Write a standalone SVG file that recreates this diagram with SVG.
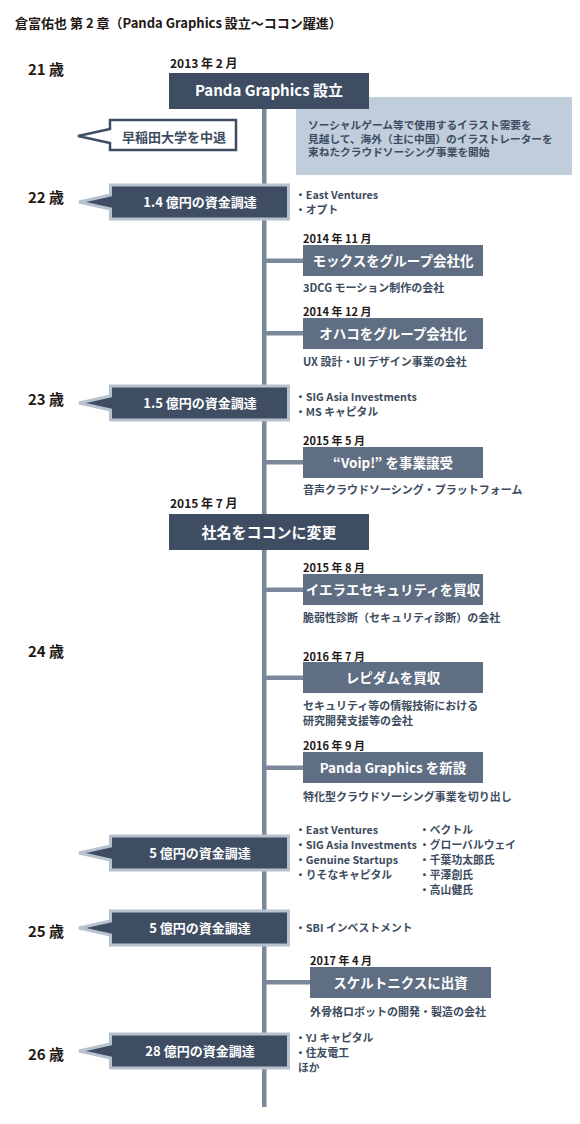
<svg xmlns="http://www.w3.org/2000/svg" width="580" height="1124" viewBox="0 0 580 1124">
<style>
text{font-family:"Noto Sans CJK JP","Noto Sans",sans-serif;font-weight:700}
.title{font-size:13px;fill:#231815}
.age{font-size:15px;fill:#231815}
.date{font-size:11px;fill:#231815}
.big{font-size:15px;fill:#fff;text-anchor:middle}
.ev{font-size:13.5px;fill:#fff;text-anchor:middle}
.fund{font-size:13px;fill:#fff;text-anchor:middle}
.desc{font-size:11px;fill:#3d4c60}
.list{font-size:10.8px;fill:#3d4c60}
.note{font-size:10.7px;fill:#3d4c60}
.dark{fill:#3e4d62}
.evbox{fill:#5f6e82}
.fbox{fill:#3e4d62;stroke:#b6c2ce;stroke-width:3;stroke-linejoin:miter}
.line{fill:#7b8899}
</style>
<rect width="580" height="1124" fill="#fff"/>
<text class="title" x="15" y="28">倉富佑也 第 2 章（Panda Graphics 設立〜ココン躍進）</text>
<g id="ages">
<text class="age" x="28" y="75">21 歳</text>
<text class="age" x="28" y="203">22 歳</text>
<text class="age" x="28" y="405">23 歳</text>
<text class="age" x="28" y="657">24 歳</text>
<text class="age" x="28" y="937">25 歳</text>
<text class="age" x="28" y="1060">26 歳</text>
</g>
<g id="connectors">
<rect class="line" x="262" y="100" width="4.5" height="1007"/>
<rect class="line" x="264" y="258.5" width="40" height="4.5"/>
<rect class="line" x="264" y="331" width="40" height="4.5"/>
<rect class="line" x="264" y="460" width="40" height="4.5"/>
<rect class="line" x="264" y="587.5" width="40" height="4.5"/>
<rect class="line" x="264" y="675.5" width="40" height="4.5"/>
<rect class="line" x="264" y="765.5" width="40" height="4.5"/>
<rect class="line" x="264" y="980" width="46" height="4.5"/>
</g>
<g id="note-box">
<rect x="296" y="97" width="276" height="78" fill="#c0cddb"/>
<text class="note" x="308" y="129">ソーシャルゲーム等で使用するイラスト需要を</text>
<text class="note" x="308" y="142.5">見越して、海外（主に中国）のイラストレーターを</text>
<text class="note" x="308" y="156">束ねたクラウドソーシング事業を開始</text>
</g>
<g id="panda-founded">
<text class="date" x="170" y="68" style="font-size:12px">2013 年 2 月</text>
<rect class="dark" x="169" y="73" width="200" height="36"/>
<text class="big" x="269" y="96">Panda Graphics 設立</text>
</g>
<g id="waseda">
<path d="M110,120 H236 V150 H110 V143 L78,136 L110,129 Z" fill="#fff" stroke="#3d4c60" stroke-width="2.5"/>
<text x="174" y="141.5" style="font-size:13px;fill:#3d4c60;text-anchor:middle">早稲田大学を中退</text>
</g>
<g id="fund-1">
<path class="fbox" d="M110.5,185 H288.5 V219 H110.5 V209 L79,202 L110.5,195 Z"/>
<text class="fund" x="200" y="207">1.4 億円の資金調達</text>
<text class="list" x="295" y="199">・East Ventures</text>
<text class="list" x="295" y="214">・オプト</text>
</g>
<g id="mox">
<text class="date" x="303" y="243">2014 年 11 月</text>
<rect class="evbox" x="303" y="245" width="180" height="31"/>
<text class="ev" x="393" y="265.5">モックスをグループ会社化</text>
<text class="desc" x="303" y="292">3DCG モーション制作の会社</text>
</g>
<g id="ohaco">
<text class="date" x="303" y="316">2014 年 12 月</text>
<rect class="evbox" x="303" y="318" width="180" height="31"/>
<text class="ev" x="393" y="338.5">オハコをグループ会社化</text>
<text class="desc" x="303" y="366">UX 設計・UI デザイン事業の会社</text>
</g>
<g id="fund-2">
<path class="fbox" d="M110.5,386 H288.5 V420 H110.5 V410 L79,403 L110.5,396 Z"/>
<text class="fund" x="200" y="408">1.5 億円の資金調達</text>
<text class="list" x="295" y="401">・SIG Asia Investments</text>
<text class="list" x="295" y="416">・MS キャピタル</text>
</g>
<g id="voip">
<text class="date" x="303" y="445">2015 年 5 月</text>
<rect class="evbox" x="303" y="447" width="180" height="31"/>
<text class="ev" x="393" y="467.5">“Voip!” を事業譲受</text>
<text class="desc" x="303" y="494">音声クラウドソーシング・プラットフォーム</text>
</g>
<g id="rename">
<text class="date" x="170" y="508" style="font-size:12px">2015 年 7 月</text>
<rect class="dark" x="169" y="514" width="200" height="36"/>
<text class="big" x="269" y="537.5">社名をココンに変更</text>
</g>
<g id="ierae">
<text class="date" x="303" y="572">2015 年 8 月</text>
<rect class="evbox" x="303" y="574" width="180" height="31"/>
<text class="ev" x="393" y="594.5">イエラエセキュリティを買収</text>
<text class="desc" x="303" y="622">脆弱性診断（セキュリティ診断）の会社</text>
</g>
<g id="lepidum">
<text class="date" x="303" y="661">2016 年 7 月</text>
<rect class="evbox" x="303" y="662" width="180" height="31"/>
<text class="ev" x="393" y="682.5">レピダムを買収</text>
<text class="desc" x="303" y="710">セキュリティ等の情報技術における</text>
<text class="desc" x="303" y="725">研究開発支援等の会社</text>
</g>
<g id="panda-new">
<text class="date" x="303" y="750">2016 年 9 月</text>
<rect class="evbox" x="303" y="752" width="180" height="31"/>
<text class="ev" x="393" y="772.5">Panda Graphics を新設</text>
<text class="desc" x="303" y="801">特化型クラウドソーシング事業を切り出し</text>
</g>
<g id="fund-3">
<path class="fbox" d="M110.5,836 H288.5 V870 H110.5 V860 L79,853 L110.5,846 Z"/>
<text class="fund" x="200" y="858">5 億円の資金調達</text>
<text class="list" x="295" y="834">・East Ventures</text>
<text class="list" x="295" y="849">・SIG Asia Investments</text>
<text class="list" x="295" y="864">・Genuine Startups</text>
<text class="list" x="295" y="879">・りそなキャピタル</text>
<text class="list" x="419" y="834">・ベクトル</text>
<text class="list" x="419" y="849">・グローバルウェイ</text>
<text class="list" x="419" y="864">・千葉功太郎氏</text>
<text class="list" x="419" y="879">・平澤創氏</text>
<text class="list" x="419" y="894">・高山健氏</text>
</g>
<g id="fund-4">
<path class="fbox" d="M110.5,911 H288.5 V945 H110.5 V935 L79,928 L110.5,921 Z"/>
<text class="fund" x="200" y="933">5 億円の資金調達</text>
<text class="list" x="295" y="932">・SBI インベストメント</text>
</g>
<g id="skeletonics">
<text class="date" x="310" y="965">2017 年 4 月</text>
<rect class="evbox" x="310" y="967" width="181" height="31"/>
<text class="ev" x="400.5" y="987.5">スケルトニクスに出資</text>
<text class="desc" x="310" y="1016">外骨格ロボットの開発・製造の会社</text>
</g>
<g id="fund-5">
<path class="fbox" d="M110.5,1034 H288.5 V1068 H110.5 V1058 L79,1051 L110.5,1044 Z"/>
<text class="fund" x="200" y="1056">28 億円の資金調達</text>
<text class="list" x="295" y="1042">・YJ キャピタル</text>
<text class="list" x="295" y="1057">・住友電工</text>
<text class="list" x="298" y="1072">ほか</text>
</g>
</svg>
